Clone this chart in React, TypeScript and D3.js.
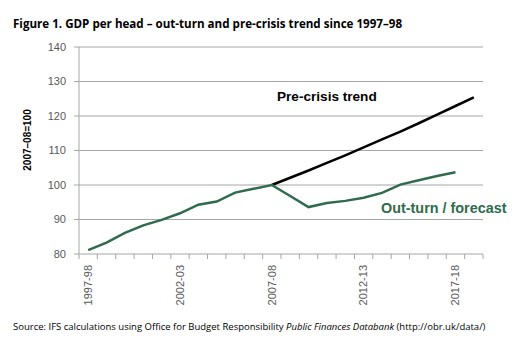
import React from "react";
import * as d3 from "d3";

const categories = [
  "1997-98","1998-99","1999-00","2000-01","2001-02","2002-03","2003-04","2004-05",
  "2005-06","2006-07","2007-08","2008-09","2009-10","2010-11","2011-12","2012-13",
  "2013-14","2014-15","2015-16","2016-17","2017-18","2018-19",
];
const labelledCategories = ["1997-98","2002-03","2007-08","2012-13","2017-18"];
const outturn = [81.1, 83.3, 86.1, 88.3, 89.9, 91.8, 94.3, 95.2, 97.8, 98.9, 100, 96.8, 93.6, 94.8, 95.4, 96.3, 97.7, 100.1, 101.4, 102.6, 103.7];
const trendStart = 10;
const trend = [100, 102.1, 104.2, 106.4, 108.6, 110.9, 113.2, 115.5, 117.9, 120.4, 122.9, 125.4];
const yTicks = [80, 90, 100, 110, 120, 130, 140];

const W = 515, H = 355;
const left = 79, right = 483, top = 47, bottom = 254;
const green = "#2f6b4c";
const tickColor = "#595959";
const gridColor = "#a6a6a6";

export default function App() {
  const x = d3.scaleBand<string>().domain(categories).range([left, right]).paddingInner(0).paddingOuter(0);
  const y = d3.scaleLinear().domain([80, 140]).range([bottom, top]);
  const cx = (i: number) => (x(categories[i]) as number) + x.bandwidth() / 2;
  const line = d3.line<number>().x((_, i) => cx(i)).y((d) => y(d));
  const trendLine = d3.line<number>().x((_, i) => cx(i + trendStart)).y((d) => y(d));
  const boundaries = d3.range(categories.length + 1).map((i) => left + i * x.bandwidth());

  return (
    <svg width={W} height={H} style={{ position: "absolute", left: 0, top: 0, background: "#fff" }}>
      <text x={13} y={28} fontFamily="Open Sans" fontWeight="bold" fontSize={11.6} fill="#000">
        Figure 1. GDP per head – out-turn and pre-crisis trend since 1997–98
      </text>
      {yTicks.map((t) => (
        <g key={t}>
          {t > 80 && <line x1={left} x2={right} y1={y(t)} y2={y(t)} stroke={gridColor} strokeWidth={1} />}
          <line x1={left - 5} x2={left} y1={y(t)} y2={y(t)} stroke={gridColor} strokeWidth={1} />
          <text x={66} y={y(t)} dy="0.35em" textAnchor="end" fontFamily="Liberation Sans" fontSize={11} fill={tickColor}>
            {t}
          </text>
        </g>
      ))}
      <line x1={left} x2={left} y1={top} y2={bottom} stroke={gridColor} strokeWidth={1} />
      <line x1={left} x2={right} y1={bottom} y2={bottom} stroke={gridColor} strokeWidth={1} />
      {boundaries.map((b, i) => (
        <line key={i} x1={b} x2={b} y1={bottom} y2={bottom + 5} stroke={gridColor} strokeWidth={1} />
      ))}
      {labelledCategories.map((c) => {
        const px = (x(c) as number) + x.bandwidth() / 2;
        return (
          <text key={c} transform={`translate(${px},${bottom + 11}) rotate(-90)`} dy="0.35em" textAnchor="end"
            fontFamily="Liberation Sans" fontSize={11} fill={tickColor}>
            {c}
          </text>
        );
      })}
      <text transform={`translate(27,140) rotate(-90)`} dy="0.35em" textAnchor="middle"
        fontFamily="Liberation Sans" fontWeight="bold" fontSize={10} fill="#000">
        2007–08=100
      </text>
      <path d={trendLine(trend) as string} fill="none" stroke="#000" strokeWidth={2.5} />
      <path d={line(outturn) as string} fill="none" stroke={green} strokeWidth={2.5} />
      <text x={277} y={96} dy="0.35em" fontFamily="Liberation Sans" fontWeight="bold" fontSize={13.6} fill="#000">
        Pre-crisis trend
      </text>
      <text x={381} y={208} dy="0.35em" fontFamily="Liberation Sans" fontWeight="bold" fontSize={14.4} fill={green}>
        Out-turn / forecast
      </text>
      <text x={13} y={327} dy="0.35em" fontFamily="Open Sans" fontSize={9.5} fill="#000">
        Source: IFS calculations using Office for Budget Responsibility <tspan fontStyle="italic">Public Finances Databank</tspan> (http://obr.uk/data/)
      </text>
    </svg>
  );
}
